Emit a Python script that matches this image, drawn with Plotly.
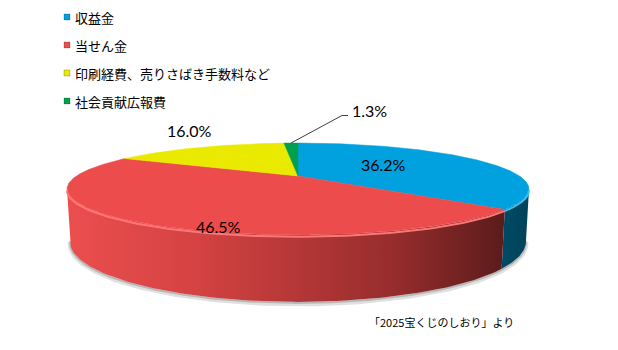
import numpy as np
import plotly.graph_objects as go

# ---------------- data ----------------
categories = ["収益金", "当せん金", "印刷経費、売りさばき手数料など", "社会貢献広報費"]
values = [36.2, 46.5, 16.0, 1.3]
source_note = "「2025宝くじのしおり」より"

# ---------------- style ----------------
top_colors = ["rgb(0,161,222)", "rgb(237,76,76)", "rgb(234,234,0)", "rgb(0,160,80)"]
edge_colors = ["rgb(60,190,240)", "rgb(255,118,118)", "rgb(250,250,90)", "rgb(60,200,120)"]
wall_scales = [
    [[0, "rgb(0,74,100)"], [1, "rgb(0,66,90)"]],
    [[0, "rgb(236,78,78)"], [0.3, "rgb(212,66,66)"], [0.75, "rgb(150,44,44)"], [1, "rgb(92,27,27)"]],
    [[0, "rgb(160,160,0)"], [1, "rgb(120,120,0)"]],
    [[0, "rgb(0,110,55)"], [1, "rgb(0,90,45)"]],
]
label_pos = [(383.5, 164.5), (218.5, 226.0), (189.5, 130.0), (369.0, 110.5)]
leader_elbow = [(342.0, 115.5), (348.0, 115.5)]

W, H = 618, 350
CX, CY = 298.0, 176.0
F, D, PHI, T = 769.6, 3.473, np.radians(11.0), 0.228


def proj(theta_deg, h=0.0, r=1.0):
    th = np.radians(np.asarray(theta_deg, dtype=float))
    X = r * np.cos(th)
    Z = r * np.sin(th)
    depth = D + Z * np.cos(PHI) - h * np.sin(PHI)
    up = h * np.cos(PHI) + Z * np.sin(PHI)
    return CX + F * X / depth, CY - F * up / depth


total = float(sum(values))
cum = np.concatenate([[0], np.cumsum(values)]) / total
starts = 90 - 360 * cum[:-1]
ends = 90 - 360 * cum[1:]

vis = np.degrees(np.arcsin(np.cos(PHI) / D))
VIS_HI, VIS_LO = -vis, -180 + vis

fig = go.Figure()

# soft shadow under the body
sh = np.linspace(VIS_LO - 2, VIS_HI + 2, 200)
sx, sy = proj(sh, -T)
fig.add_trace(go.Scatter(x=sx, y=sy + 2, mode="lines", line=dict(color="rgba(0,0,0,0.12)", width=5),
                         hoverinfo="skip", showlegend=False))
fig.add_trace(go.Scatter(x=sx, y=sy + 1, mode="lines", line=dict(color="rgba(0,0,0,0.18)", width=2),
                         hoverinfo="skip", showlegend=False))

# side walls (visible front part only)
for i in range(len(values)):
    hi = min(starts[i], VIS_HI)
    lo = max(ends[i], VIS_LO)
    if hi <= lo:
        continue
    a = np.linspace(hi, lo, 120)
    tx, ty = proj(a, 0.0)
    bx, by = proj(a[::-1], -T)
    px = np.concatenate([tx, bx, tx[:1]])
    py = np.concatenate([ty, by, ty[:1]])
    fig.add_trace(go.Scatter(
        x=px, y=py, mode="lines", fill="toself", line=dict(width=0, color="rgba(0,0,0,0)"),
        fillgradient=dict(type="horizontal", colorscale=wall_scales[i]),
        hoverinfo="skip", showlegend=False))

# top faces
for i in range(len(values)):
    a = np.linspace(starts[i], ends[i], max(8, int(abs(starts[i] - ends[i]) * 2)))
    ax_, ay_ = proj(a, 0.0)
    px = np.concatenate([[CX], ax_, [CX]])
    py = np.concatenate([[CY], ay_, [CY]])
    fig.add_trace(go.Scatter(
        x=px, y=py, mode="lines", fill="toself", fillcolor=top_colors[i],
        line=dict(width=0.5, color=top_colors[i]), hoverinfo="skip", showlegend=False))

# highlight along the front rim of the top face
for i in range(len(values)):
    hi = min(starts[i], VIS_HI)
    lo = max(ends[i], VIS_LO)
    if hi <= lo:
        continue
    a = np.linspace(hi, lo, 100)
    ex, ey = proj(a, -0.006)
    fig.add_trace(go.Scatter(x=ex, y=ey, mode="lines", line=dict(color=edge_colors[i], width=2),
                             hoverinfo="skip", showlegend=False))

# leader line for the smallest slice
gmid = (starts[3] + ends[3]) / 2
lx0, ly0 = proj(gmid, 0.0, 1.0)
fig.add_trace(go.Scatter(
    x=[float(lx0)] + [p[0] for p in leader_elbow],
    y=[float(ly0)] + [p[1] for p in leader_elbow],
    mode="lines", line=dict(color="#404040", width=1), hoverinfo="skip", showlegend=False))

# percentage labels
for v, (x, y) in zip(values, label_pos):
    fig.add_annotation(x=x, y=y, text=f"{v:.1f}%", showarrow=False, xanchor="center", yanchor="middle",
                       font=dict(family="Lato, 'Open Sans', sans-serif", size=16, color="#000000"))

# legend (manual)
leg_y = [17, 45, 73, 101]
fig.add_trace(go.Scatter(
    x=[67] * len(categories), y=leg_y, mode="markers",
    marker=dict(symbol="square", size=6, color=top_colors, line=dict(width=0.6, color="rgba(0,0,0,0.35)")),
    hoverinfo="skip", showlegend=False))
for name, y in zip(categories, leg_y):
    fig.add_annotation(x=72.5, y=y, text=name, showarrow=False, xanchor="left", yanchor="middle",
                       font=dict(family="Noto Sans CJK JP", size=13, color="#000000"))

fig.add_annotation(x=367, y=322, text=source_note, showarrow=False, xanchor="left", yanchor="middle",
                   font=dict(family="Noto Sans CJK JP", size=11, color="#000000"))

fig.update_layout(
    width=W, height=H, margin=dict(l=0, r=0, t=0, b=0),
    paper_bgcolor="white", plot_bgcolor="white",
    xaxis=dict(range=[0, W], visible=False, fixedrange=True),
    yaxis=dict(range=[H, 0], visible=False, fixedrange=True),
    showlegend=False,
)

fig.write_html("out.html")
